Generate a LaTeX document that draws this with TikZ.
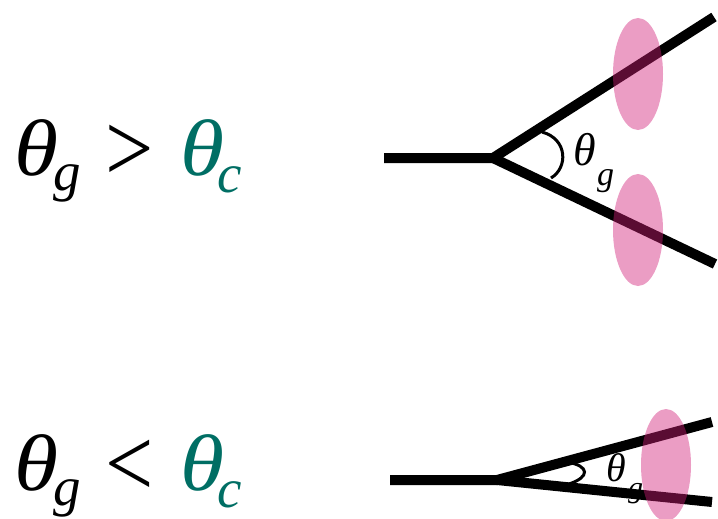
\documentclass[tikz,border=0pt]{standalone}
\usepackage{fontspec}
\setmainfont{Liberation Serif}
\usetikzlibrary{calc,shapes.geometric}
\definecolor{tealc}{RGB}{0,110,100}
\definecolor{pinkc}{RGB}{209,28,119}
\tikzset{
  leg/.style={line width=10pt, line cap=butt, line join=miter},
  anglearc/.style={line width=3pt},
  blob/.style={fill=pinkc, fill opacity=0.43, draw=none},
  txt/.style={inner sep=0pt, outer sep=0pt, anchor=base west, font=\itshape},
  bigfont/.style={font=\fontsize{80}{80}\selectfont\itshape},
  subfont/.style={font=\fontsize{55}{55}\selectfont\itshape},
}
\newcommand{\wth}{\scalebox{1.12}[1]{θ}}
\newcommand{\opgt}{\scalebox{1.07}[1.23]{\upshape >}}
\newcommand{\oplt}{\scalebox{1.07}[1.23]{\upshape <}}
\begin{document}
\begin{tikzpicture}[x=1pt,y=-1pt]
\useasboundingbox (0,0) rectangle (718,519);
% ---------- top condition text ----------
\node[txt, bigfont] (t1) at (15,175) {\wth};
\node[txt, subfont] (t1g) at (53,190) {g};
\node[txt, bigfont] (t1op) at (105,181) {\opgt};
\node[txt, bigfont, text=tealc] (t1c) at (180,175) {\wth};
\node[txt, subfont, text=tealc] (t1cc) at (217,192) {c};
% ---------- bottom condition text ----------
\node[txt, bigfont] (t2) at (15,490) {\wth};
\node[txt, subfont] (t2g) at (53,505) {g};
\node[txt, bigfont] (t2op) at (105,496) {\oplt};
\node[txt, bigfont, text=tealc] (t2c) at (180,490) {\wth};
\node[txt, subfont, text=tealc] (t2cc) at (217,507) {c};
% ---------- top vertex ----------
\coordinate (v1) at (493,158);
\coordinate (s1) at (384,158);
\coordinate (u1) at (714,17);
\coordinate (d1) at (715,264);
\coordinate (p1) at (542,132);
\coordinate (p2) at (551,178);
\draw[leg] (s1) -- (v1) -- (u1);
\draw[leg] (v1) -- (d1);
\draw[anglearc] (p1) .. controls (568,139) and (568,168) .. (p2);
\node[txt, font=\fontsize{46}{46}\selectfont\itshape] (a1) at (573,165) {θ};
\node[txt, font=\fontsize{34}{34}\selectfont\itshape] (a1g) at (597,185) {g};
\node[blob, ellipse, minimum width=50pt, minimum height=112pt, inner sep=0pt] (e1) at (638,74) {};
\node[blob, ellipse, minimum width=50pt, minimum height=112pt, inner sep=0pt] (e2) at (638,230) {};
% ---------- bottom vertex ----------
\coordinate (v2) at (497,480);
\coordinate (s2) at (390,480);
\coordinate (u2) at (712,422);
\coordinate (d2) at (712,502);
\coordinate (q1) at (567,462);
\coordinate (q2) at (569,484);
\node[txt, font=\fontsize{40}{40}\selectfont\itshape] (a2) at (606,481) {θ};
\node[txt, font=\fontsize{30}{30}\selectfont\itshape] (a2g) at (628,497) {g};
\draw[leg] (s2) -- (v2) -- (u2);
\draw[leg] (v2) -- (d2);
\draw[anglearc] (q1) .. controls (590,466) and (590,477) .. (q2);
\node[blob, ellipse, minimum width=50pt, minimum height=112pt, inner sep=0pt] (e3) at (666,465) {};
\end{tikzpicture}
\end{document}
